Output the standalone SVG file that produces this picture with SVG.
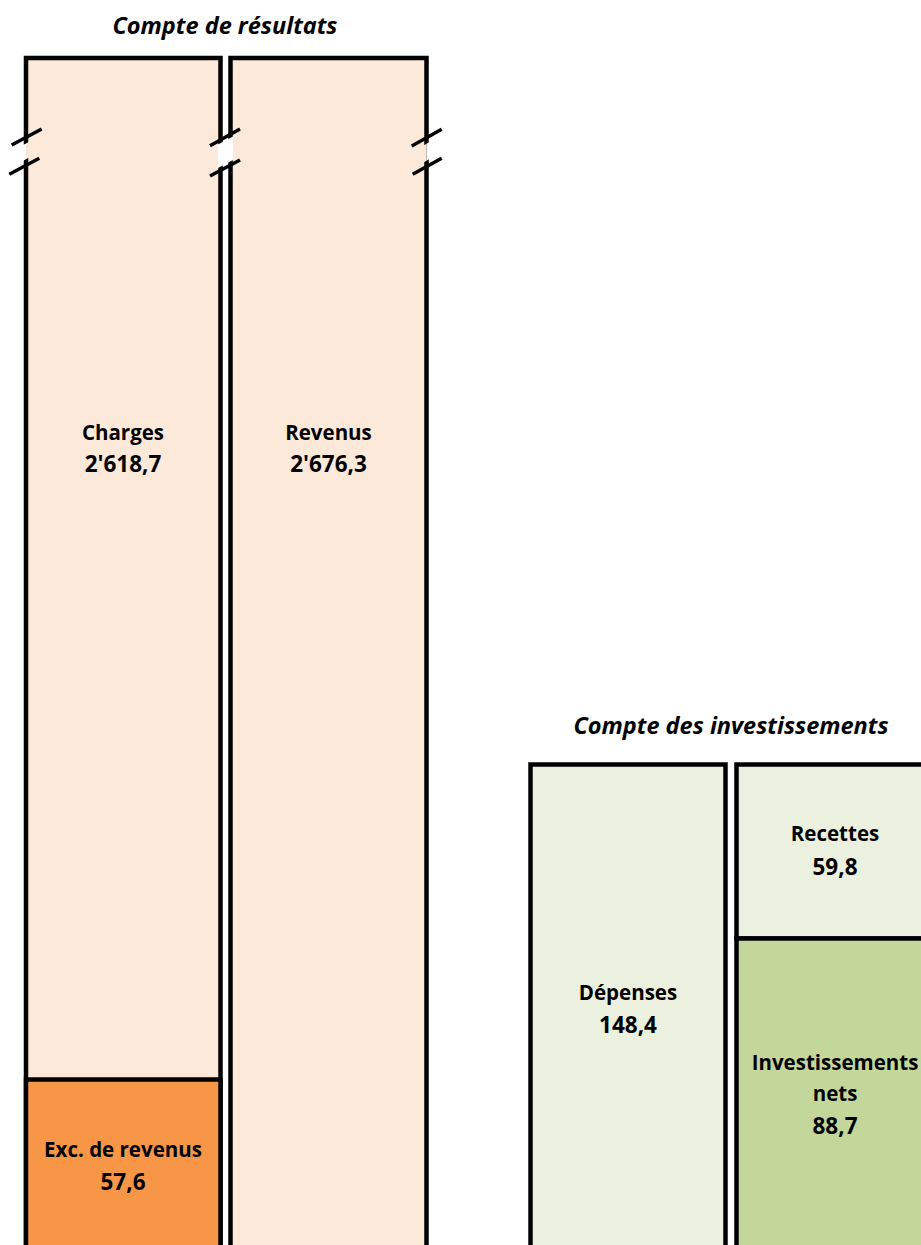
<svg xmlns="http://www.w3.org/2000/svg" width="921" height="1245" viewBox="0 0 921 1245">
<style>
.box{stroke:#000;stroke-width:4.5}
.lbl{font-family:"Open Sans","Liberation Sans",sans-serif;font-weight:bold;font-size:20.5px;fill:#000;text-anchor:middle}
.num{font-family:"Open Sans","Liberation Sans",sans-serif;font-weight:bold;font-size:22.5px;fill:#000;text-anchor:middle}
.ttl{font-family:"Open Sans","Liberation Sans",sans-serif;font-weight:bold;font-style:italic;font-size:23.5px;fill:#000;text-anchor:middle}
.slash{stroke:#000;stroke-width:3.5;fill:none}
</style>
<rect width="921" height="1245" fill="#fff"/>
<text class="ttl" x="225" y="34">Compte de résultats</text>
<text class="ttl" x="731" y="734">Compte des investissements</text>
<g id="charges">
<rect class="box" x="26" y="58" width="194.5" height="1230" fill="#FDE9D9"/>
<text class="lbl" x="123" y="440">Charges</text>
<text class="num" x="123" y="472">2'618,7</text>
</g>
<g id="exc">
<rect class="box" x="26" y="1079.5" width="194.5" height="210" fill="#F79646"/>
<text class="lbl" x="123" y="1157">Exc. de revenus</text>
<text class="num" x="123" y="1190">57,6</text>
</g>
<g id="revenus">
<rect class="box" x="230.5" y="58" width="196" height="1230" fill="#FDE9D9"/>
<text class="lbl" x="328.5" y="440">Revenus</text>
<text class="num" x="328.5" y="472">2'676,3</text>
</g>
<g id="break">
<polygon points="20,146.6 26,143.4 26,159.3 20,162.5" fill="#fff"/>
<polygon points="26,143.4 32,140.2 32,156.1 26,159.3" fill="#FDE9D9"/>
<polygon points="218,144.5 233,136.5 233,160 218,168" fill="#fff"/>
<polygon points="423,145.7 426.5,143.7 426.5,160.8 423,162.7" fill="#FDE9D9"/>
<polygon points="426.5,143.7 430,141.8 430,158.8 426.5,160.8" fill="#fff"/>
<line class="slash" x1="11.7" y1="145" x2="41.7" y2="129"/>
<line class="slash" x1="9.3" y1="174.3" x2="39.3" y2="158.3"/>
<line class="slash" x1="210" y1="145.7" x2="240" y2="129"/>
<line class="slash" x1="210" y1="176" x2="240" y2="160"/>
<line class="slash" x1="411.7" y1="146" x2="441.7" y2="129.3"/>
<line class="slash" x1="412.7" y1="174.3" x2="441.7" y2="158.3"/>
</g>
<g id="depenses">
<rect class="box" x="530.5" y="764.5" width="195" height="520" fill="#EBF1DE"/>
<text class="lbl" x="628" y="1000">Dépenses</text>
<text class="num" x="628" y="1033">148,4</text>
</g>
<g id="recettes">
<rect class="box" x="736.5" y="764.5" width="200" height="174" fill="#EBF1DE"/>
<text class="lbl" x="835" y="841">Recettes</text>
<text class="num" x="835" y="875">59,8</text>
</g>
<g id="invnets">
<rect class="box" x="736.5" y="938.5" width="200" height="350" fill="#C4D79B"/>
<text class="lbl" x="835" y="1070">Investissements</text>
<text class="lbl" x="835" y="1101">nets</text>
<text class="num" x="835" y="1134">88,7</text>
</g>
<g id="connectors"/>
</svg>
